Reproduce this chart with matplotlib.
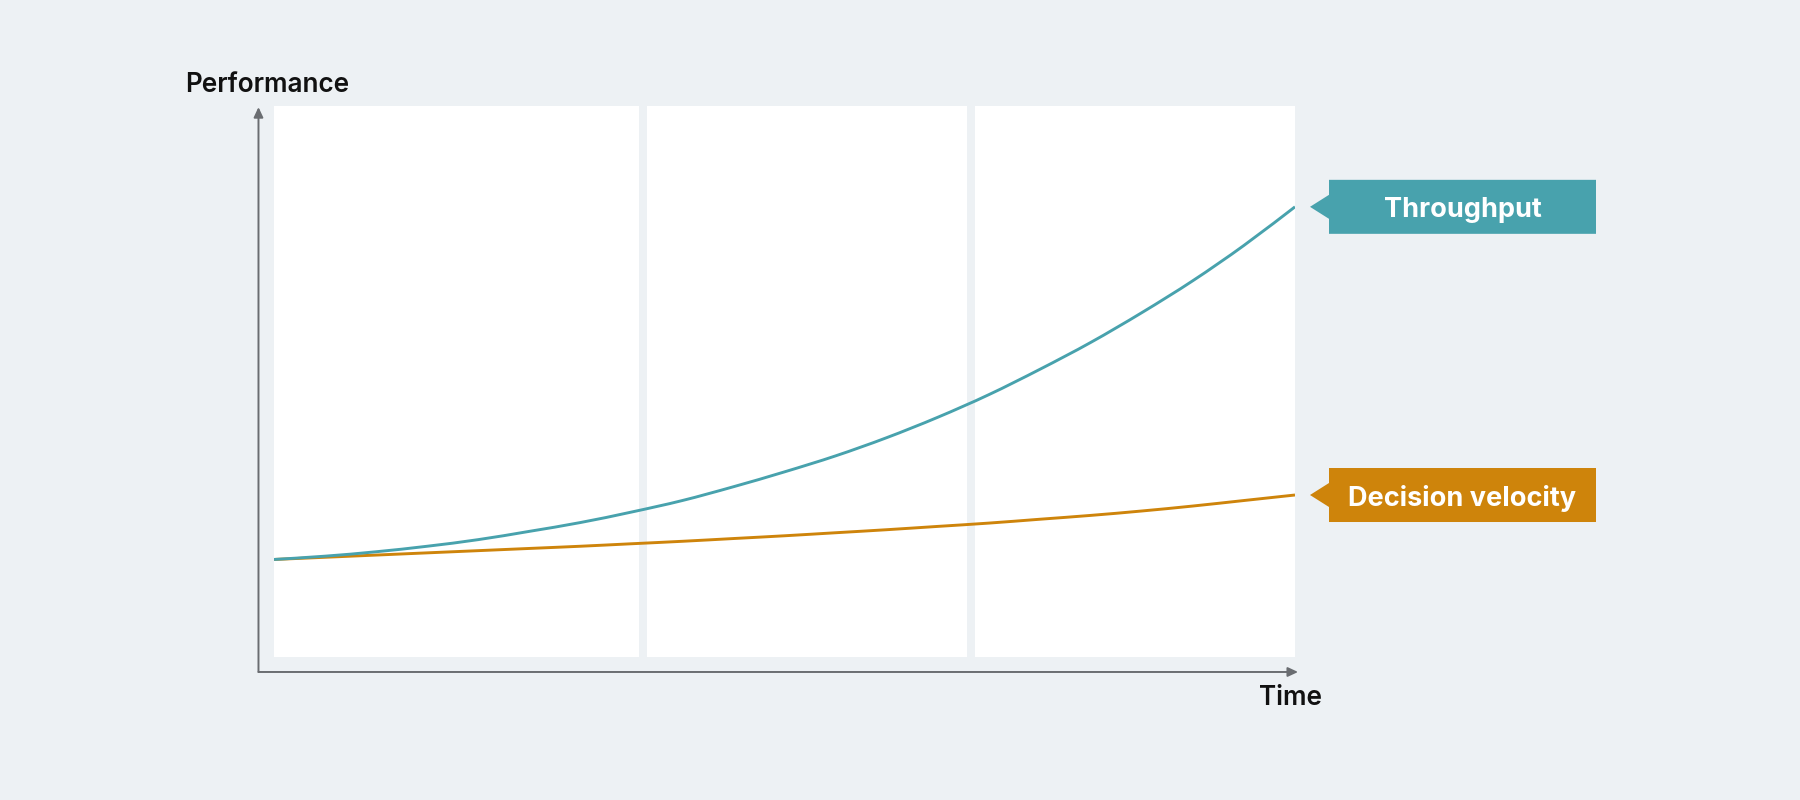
import matplotlib.pyplot as plt
from matplotlib.patches import Polygon, PathPatch
from matplotlib.path import Path
from matplotlib.transforms import IdentityTransform

# time runs 0..10, performance 0..100
time = [0, 0.5, 1, 1.5, 2, 2.5, 3, 3.5, 4, 4.5, 5, 5.5, 6, 6.5, 7, 7.5, 8, 8.5, 9, 9.5, 10]
throughput = [17.7, 18.3, 19.1, 20.1, 21.3, 22.8, 24.4, 26.3, 28.4, 30.9, 33.6,
              36.5, 39.8, 43.5, 47.6, 52.2, 57.1, 62.5, 68.3, 74.7, 81.7]
decision = [17.7, 18.1, 18.5, 18.9, 19.3, 19.7, 20.1, 20.55, 21.0, 21.5, 22.0,
            22.55, 23.1, 23.7, 24.3, 25.0, 25.7, 26.5, 27.4, 28.4, 29.4]
phase_start = [0, 3.65, 6.87]
phase_end = [3.575, 6.79, 10]

BG = "#EDF1F4"
TEAL = "#48A2AD"
ORANGE = "#CE840B"
AXIS = "#6A6D71"

plt.rcParams['font.family'] = ['Inter', 'DejaVu Sans']


def smooth_path(xs, ys):
    # bezier segments through the points (catmull-rom tangents)
    pts = list(zip(xs, ys))
    verts = [pts[0]]
    codes = [Path.MOVETO]
    n = len(pts)
    for i in range(n - 1):
        p0 = pts[i - 1] if i > 0 else pts[i]
        p1, p2 = pts[i], pts[i + 1]
        p3 = pts[i + 2] if i + 2 < n else pts[i + 1]
        c1 = (p1[0] + (p2[0] - p0[0]) / 6, p1[1] + (p2[1] - p0[1]) / 6)
        c2 = (p2[0] - (p3[0] - p1[0]) / 6, p2[1] - (p3[1] - p1[1]) / 6)
        verts += [c1, c2, p2]
        codes += [Path.CURVE4] * 3
    return Path(verts, codes)


fig = plt.figure(figsize=(18, 8), dpi=100, facecolor=BG)
ax = fig.add_axes([274/1800, 143/800, 1021/1800, 551/800])
ax.set_facecolor(BG)
ax.set_xlim(0, 10)
ax.set_ylim(0, 100)
for s in ax.spines.values():
    s.set_visible(False)
ax.set_xticks([])
ax.set_yticks([])

for a, b in zip(phase_start, phase_end):
    ax.axvspan(a, b, color="white", lw=0, zorder=0)

ax.add_patch(PathPatch(smooth_path(time, decision), facecolor="none", edgecolor=ORANGE,
                       lw=2.1, capstyle="butt", zorder=2))
ax.add_patch(PathPatch(smooth_path(time, throughput), facecolor="none", edgecolor=TEAL,
                       lw=2.1, capstyle="butt", zorder=3))

# axis arrows
arrow = dict(arrowstyle="-|>,head_length=0.6,head_width=0.28", color=AXIS, lw=1.4,
             shrinkA=0, shrinkB=0, mutation_scale=10)
ax.annotate("", xy=(-0.0152, 0.998), xytext=(-0.0152, -0.0272), xycoords="axes fraction",
            arrowprops=arrow, annotation_clip=False)
ax.annotate("", xy=(1.003, -0.0272), xytext=(-0.0152, -0.0272), xycoords="axes fraction",
            arrowprops=arrow, annotation_clip=False)

fig.text(185/1800, 1 - 92/800, "Performance", fontsize=18.8, fontweight="semibold",
         color="#111111", ha="left", va="baseline")
fig.text(1322/1800, 1 - 705/800, "Time", fontsize=18.8, fontweight="semibold",
         color="#111111", ha="right", va="baseline")

# end labels
fig.canvas.draw()
for name, vals, col in [("Throughput", throughput, TEAL), ("Decision velocity", decision, ORANGE)]:
    _, yc = ax.transData.transform((time[-1], vals[-1]))
    left, right, tip = 1329, 1596, 1310
    verts = [(tip, yc), (left, yc + 12), (left, yc + 27), (right, yc + 27),
             (right, yc - 27), (left, yc - 27), (left, yc - 12)]
    fig.add_artist(Polygon(verts, closed=True, facecolor=col, edgecolor="none",
                           transform=IdentityTransform()))
    fig.text((left + right) / 2, yc, name, transform=IdentityTransform(),
             fontsize=19.5, fontweight="bold", color="white", ha="center", va="center_baseline")

fig.savefig("out.png", dpi=100, facecolor=BG)
